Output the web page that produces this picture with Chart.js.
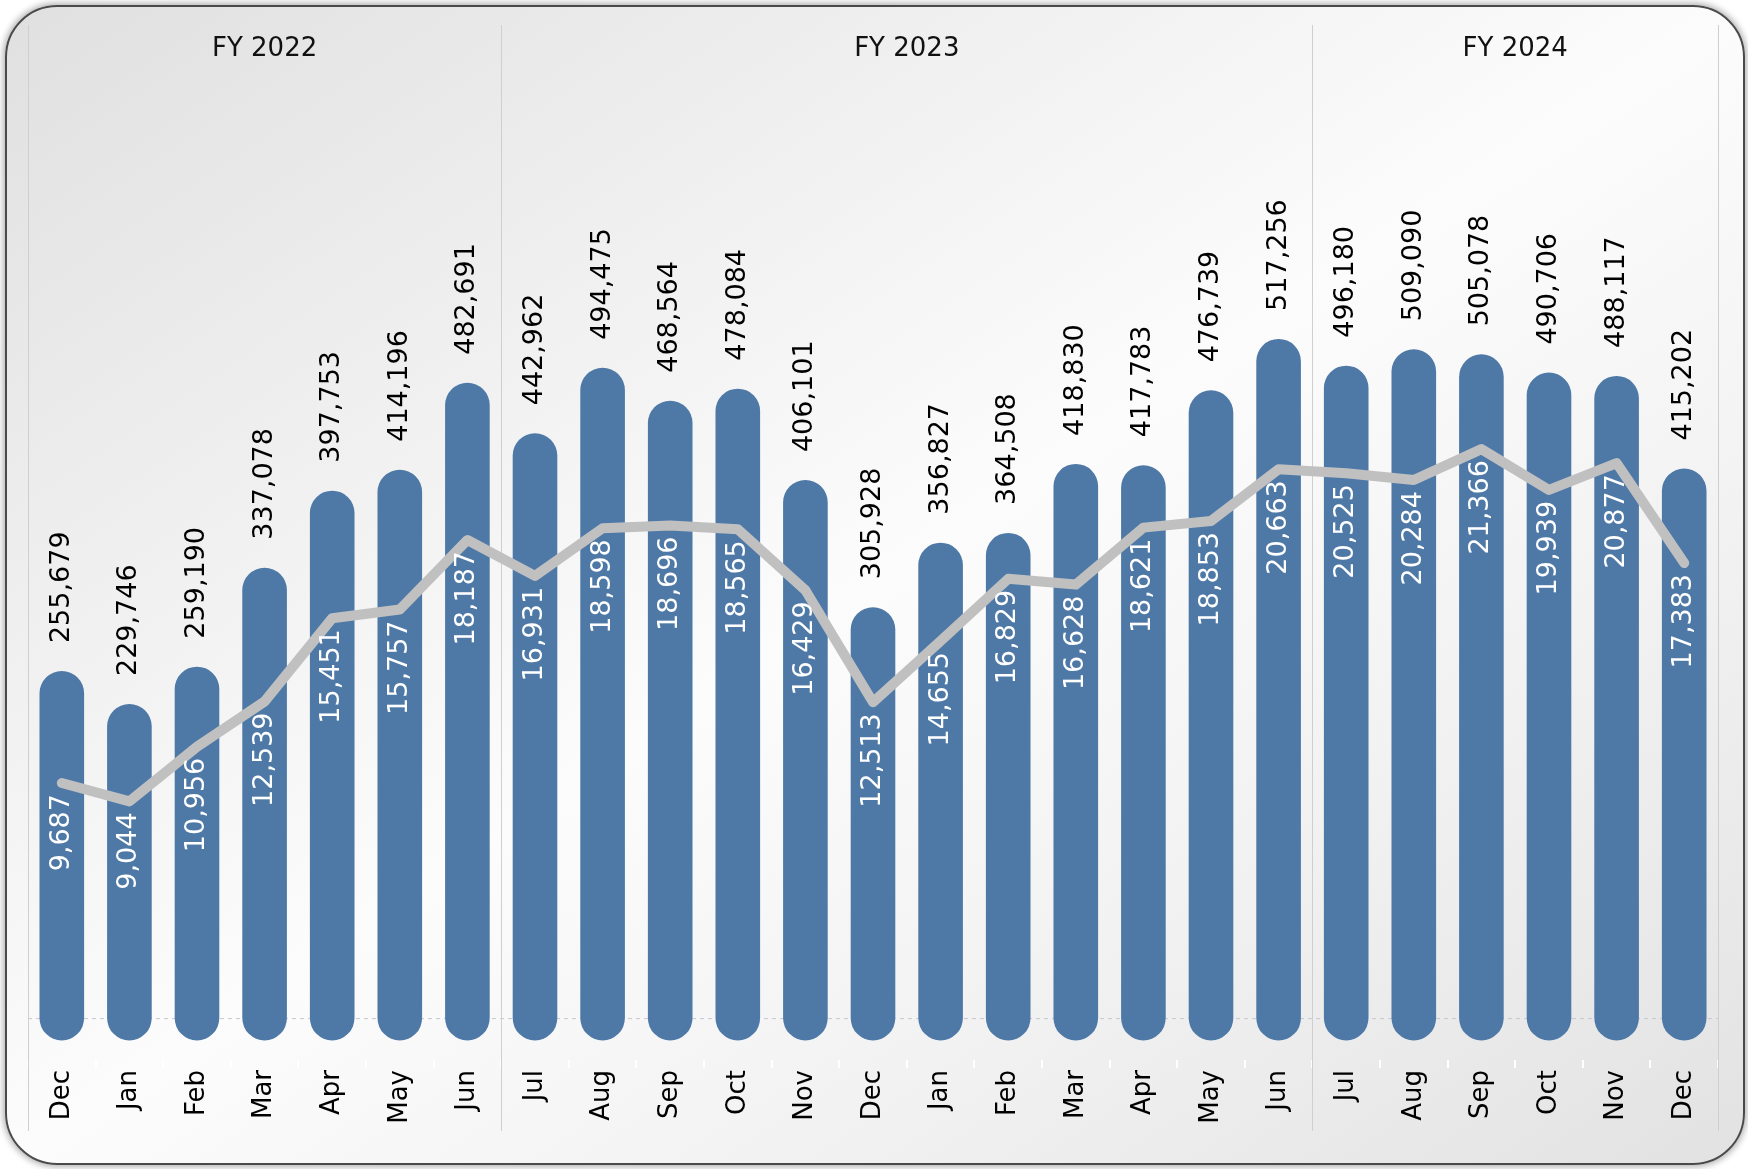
<!DOCTYPE html>
<html>
<head>
<meta charset="utf-8">
<script src="https://cdn.jsdelivr.net/npm/chart.js@4.4.1/dist/chart.umd.min.js"></script>
<style>
  html, body { margin: 0; padding: 0; background: #fff; width: 1748px; height: 1169px; overflow: hidden; }
  #card {
    position: absolute; left: 5px; top: 5px; width: 1736px; height: 1156px;
    border: 2px solid #4a4a4a; border-radius: 52px;
    box-shadow: 0 0 6px 2px rgba(0,0,0,0.3);
    background: linear-gradient(to bottom right, #e0e0e0 0%, #f1f1f1 30%, #fcfcfc 50%, #f2f2f2 72%, #e2e2e2 100%);
  }
  #chartCanvas { position: absolute; left: 0; top: 0; }
</style>
</head>
<body>
<div id="card"></div>
<canvas id="chartCanvas" width="1748" height="1169"></canvas>
<script>
// month labels along the bottom, grouped into fiscal years
const months = ['Dec', 'Jan', 'Feb', 'Mar', 'Apr', 'May', 'Jun',
  'Jul', 'Aug', 'Sep', 'Oct', 'Nov', 'Dec', 'Jan', 'Feb', 'Mar', 'Apr', 'May', 'Jun',
  'Jul', 'Aug', 'Sep', 'Oct', 'Nov', 'Dec'];
const fiscalYears = ['FY 2022', 'FY 2023', 'FY 2024'];
const fiscalYearLength = [7, 12, 6];

// blue capsule bars
const barValues = [255679, 229746, 259190, 337078, 397753, 414196, 482691,
  442962, 494475, 468564, 478084, 406101, 305928, 356827, 364508, 418830, 417783, 476739, 517256,
  496180, 509090, 505078, 490706, 488117, 415202];

// grey line (secondary axis)
const lineValues = [9687, 9044, 10956, 12539, 15451, 15757, 18187,
  16931, 18598, 18696, 18565, 16429, 12513, 14655, 16829, 16628, 18621, 18853, 20663,
  20525, 20284, 21366, 19939, 20877, 17383];

const FONT = '"DejaVu Sans", "Open Sans", sans-serif';
const fmt = v => v.toLocaleString('en-US');

// stretch every bar by its half width at both ends so the caps sit past the value
const capsulePlugin = {
  id: 'capsule',
  afterDatasetsUpdate(chart) {
    chart.getDatasetMeta(1).data.forEach(bar => {
      const r = bar.width / 2;
      bar.y -= r;
      bar.base += r;
    });
  }
};

// panel separators, zero line, fiscal year headers and value labels
const panelPlugin = {
  id: 'panels',
  beforeDatasetsDraw(chart) {
    const { ctx, chartArea, scales } = chart;
    const y0 = scales.y.getPixelForValue(0);
    ctx.save();
    ctx.strokeStyle = '#c9c9c9';
    ctx.lineWidth = 1;
    ctx.setLineDash([4, 4]);
    ctx.beginPath();
    ctx.moveTo(chartArea.left, y0 + 0.5);
    ctx.lineTo(chartArea.right, y0 + 0.5);
    ctx.stroke();
    ctx.setLineDash([]);

    let start = 0;
    const edges = [scales.x.getPixelForValue(-0.5)];
    fiscalYearLength.forEach(n => {
      start += n;
      edges.push(scales.x.getPixelForValue(start - 0.5));
    });
    ctx.strokeStyle = '#cfcfcf';
    edges.forEach(x => {
      ctx.beginPath();
      ctx.moveTo(Math.round(x) + 0.5, chartArea.top);
      ctx.lineTo(Math.round(x) + 0.5, 1131);
      ctx.stroke();
    });

    ctx.fillStyle = '#111';
    ctx.font = `26px ${FONT}`;
    ctx.textAlign = 'center';
    ctx.textBaseline = 'middle';
    fiscalYears.forEach((fy, i) => {
      ctx.fillText(fy, (edges[i] + edges[i + 1]) / 2, 49);
    });
    ctx.restore();
  },
  afterDatasetsDraw(chart) {
    const { ctx } = chart;
    ctx.save();
    ctx.font = `27px ${FONT}`;
    ctx.textBaseline = 'middle';

    // bar totals, above the caps, reading upwards
    ctx.fillStyle = '#000';
    ctx.textAlign = 'left';
    chart.getDatasetMeta(1).data.forEach((bar, i) => {
      ctx.save();
      ctx.translate(bar.x, bar.y - 28);
      ctx.rotate(-Math.PI / 2);
      ctx.fillText(fmt(barValues[i]), 0, 0);
      ctx.restore();
    });

    // line values, white, hanging under each point
    ctx.fillStyle = '#fff';
    ctx.textAlign = 'right';
    chart.getDatasetMeta(0).data.forEach((pt, i) => {
      ctx.save();
      ctx.translate(pt.x, pt.y + 11);
      ctx.rotate(-Math.PI / 2);
      ctx.fillText(fmt(lineValues[i]), 0, 0);
      ctx.restore();
    });
    ctx.restore();
  }
};

const ctx = document.getElementById('chartCanvas').getContext('2d');
const chart = new Chart(ctx, {
  type: 'bar',
  data: {
    labels: months,
    datasets: [
      {
        type: 'line',
        data: lineValues,
        yAxisID: 'y2',
        order: 1,
        borderColor: '#c0c0c0',
        borderWidth: 10,
        borderCapStyle: 'round',
        borderJoinStyle: 'round',
        pointRadius: 0,
        tension: 0
      },
      {
        type: 'bar',
        data: barValues,
        yAxisID: 'y',
        order: 2,
        backgroundColor: '#4e79a7',
        borderRadius: 999,
        borderSkipped: false,
        categoryPercentage: 1,
        barPercentage: 0.66
      }
    ]
  },
  options: {
    responsive: false,
    animation: false,
    devicePixelRatio: 1,
    layout: { padding: { left: 28, right: 30, top: 25, bottom: 0 } },
    plugins: { legend: { display: false }, tooltip: { enabled: false } },
    scales: {
      x: {
        offset: true,
        border: { display: false },
        grid: { offset: true, drawOnChartArea: false, drawTicks: true, tickLength: 8, color: '#ffffff', lineWidth: 2 },
        ticks: { color: '#000', font: { family: FONT, size: 26 }, minRotation: 90, maxRotation: 90, padding: 2, autoSkip: false },
        afterFit(scale) { scale.height = 109; }
      },
      y: { display: false, min: -33000, max: 782000 },
      y2: { display: false, min: 0, max: 36200 }
    }
  },
  plugins: [capsulePlugin, panelPlugin]
});
</script>
</body>
</html>
